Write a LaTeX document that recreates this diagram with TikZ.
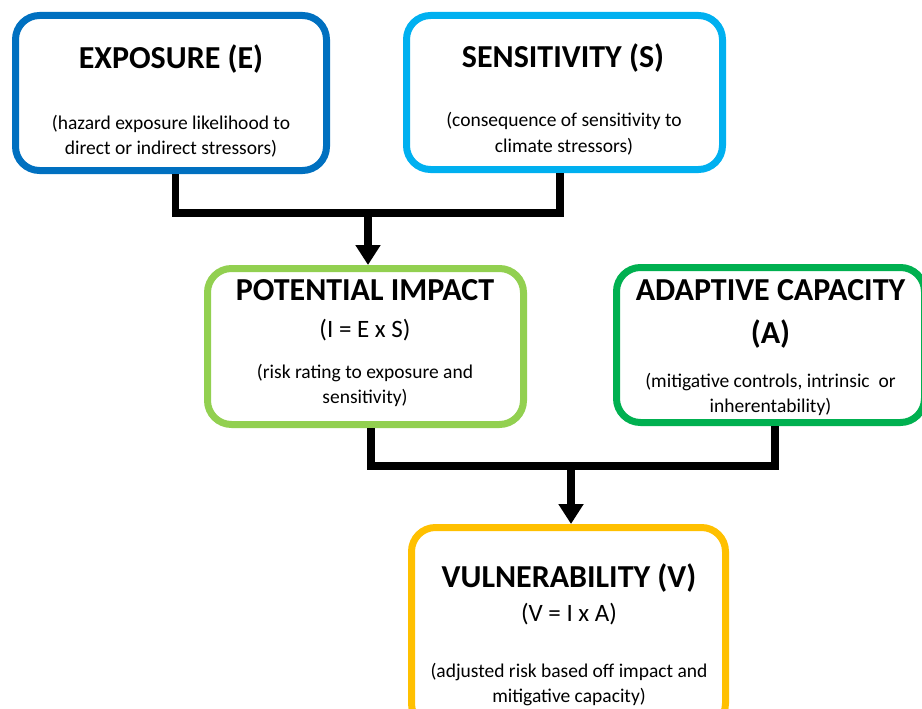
\documentclass[tikz,border=0pt]{standalone}
\usepackage{fontspec}
\setmainfont{Carlito}
\usetikzlibrary{arrows.meta}
\definecolor{expoblue}{HTML}{0070C0}
\definecolor{sensblue}{HTML}{00B0F0}
\definecolor{impactgreen}{HTML}{92D050}
\definecolor{adaptgreen}{HTML}{00B050}
\definecolor{vulnorange}{HTML}{FFC000}
\tikzset{
  box/.style={draw=#1, line width=7pt, rounded corners=24pt, fill=white},
  titletext/.style={font=\fontsize{32}{43}\selectfont\bfseries, align=center, anchor=base, inner sep=0pt},
  formulatext/.style={font=\fontsize{25}{30}\selectfont, anchor=base, inner sep=0pt},
  notetext/.style={font=\fontsize{19.5}{25}\selectfont, align=center, anchor=base, inner sep=0pt},
  link/.style={line width=7.5pt},
  arrow/.style={line width=7.5pt, -{Triangle[width=24pt,length=20pt]}}
}
\begin{document}
\begin{tikzpicture}[x=1pt, y=-1pt]
\useasboundingbox (0,0) rectangle (922,709);
% boxes
\node[box=expoblue, minimum width=311pt, minimum height=155pt] (expo) at (171,93) {};
\node[box=sensblue, minimum width=316pt, minimum height=154pt] (sens) at (564.5,92.5) {};
\node[box=impactgreen, minimum width=316pt, minimum height=156pt] (impact) at (365.5,346.5) {};
\node[box=adaptgreen, minimum width=308pt, minimum height=155pt] (adapt) at (770.5,345) {};
\node[box=vulnorange, minimum width=314pt, minimum height=200pt] (vuln) at (568.5,627.5) {};
% texts (base = last line)
\node[titletext] (expo-title) at (171,69) {EXPOSURE (E)};
\node[notetext] (expo-note) at (171,154) {(hazard exposure likelihood to\\direct or indirect stressors)};
\node[titletext] (sens-title) at (563,68) {SENSITIVITY (S)};
\node[notetext] (sens-note) at (564,152) {(consequence of sensitivity to\\climate stressors)};
\node[titletext] (impact-title) at (365,300) {POTENTIAL IMPACT};
\node[formulatext] (impact-formula) at (365,337) {(I = E x S)};
\node[notetext] (impact-note) at (365,403) {(risk rating to exposure and\\sensitivity)};
\node[titletext] (adapt-title) at (770.5,343) {ADAPTIVE CAPACITY\\(A)};
\node[notetext] (adapt-note) at (770.5,412) {(mitigative controls, intrinsic~ or\\inherentability)};
\node[titletext] (vuln-title) at (569,587) {VULNERABILITY (V)};
\node[formulatext] (vuln-formula) at (569,621) {(V = I x A)};
\node[notetext] (vuln-note) at (569,702) {(adjusted risk based off impact and\\mitigative capacity)};
% connectors
\coordinate (join1) at (368,213);
\coordinate (join2) at (571,466);
\draw[link] ([xshift=4.5pt]expo.south) |- (join1) -| ([xshift=-4.5pt]sens.south);
\draw[arrow] (join1) -- (join1 |- impact.north);
\draw[link] ([xshift=5.5pt]impact.south) |- (join2) -| ([xshift=4.5pt]adapt.south);
\draw[arrow] (join2) -- (join2 |- vuln.north);
\end{tikzpicture}
\end{document}
